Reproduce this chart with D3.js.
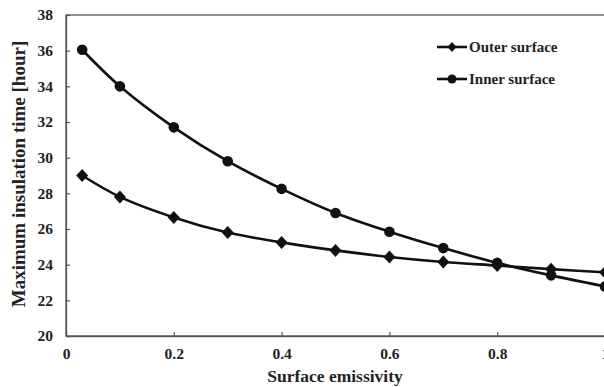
<!DOCTYPE html>
<html><head><meta charset="utf-8">
<script src="https://cdn.jsdelivr.net/npm/d3@7"></script>
<style>body{margin:0;background:#fff}svg{display:block}</style>
</head><body>
<svg id="c" width="604" height="387"></svg>
<script>
const xVals = [0.03, 0.1, 0.2, 0.3, 0.4, 0.5, 0.6, 0.7, 0.8, 0.9, 1.0];
const outer = [29.0, 27.8, 26.65, 25.8, 25.25, 24.8, 24.43, 24.15, 23.95, 23.75, 23.57];
const inner = [36.05, 34.0, 31.7, 29.8, 28.25, 26.9, 25.85, 24.93, 24.1, 23.4, 22.78];
const xTicks = [0, 0.2, 0.4, 0.6, 0.8, 1];
const yTicks = [20, 22, 24, 26, 28, 30, 32, 34, 36, 38];
const seriesNames = ["Outer surface", "Inner surface"];

const svg = d3.select("#c");
const L = 66, R = 605, T = 15, B = 336;
const x = d3.scaleLinear().domain([0, 1]).range([L, R]);
const y = d3.scaleLinear().domain([20, 38]).range([B, T]);
const serif = "'Liberation Serif','Times New Roman',serif";
const axisCol = "#555";

// frame
svg.append("rect").attr("x", L).attr("y", T).attr("width", R - L).attr("height", B - T)
  .attr("fill", "none").attr("stroke", axisCol).attr("stroke-width", 1.3);

const xa = svg.append("g").attr("transform", `translate(0,${B})`)
  .call(d3.axisBottom(x).tickValues(xTicks).tickSizeInner(-4).tickSizeOuter(0).tickPadding(12)
    .tickFormat(d => d === 0 ? "0" : d === 1 ? "1" : d3.format(".1f")(d)));
const ya = svg.append("g").attr("transform", `translate(${L},0)`)
  .call(d3.axisLeft(y).tickValues(yTicks).tickSizeInner(-4).tickSizeOuter(0).tickPadding(13));
[xa, ya].forEach(g => {
  g.select(".domain").attr("stroke", axisCol).attr("stroke-width", 1.3);
  g.selectAll(".tick line").attr("stroke", axisCol).attr("stroke-width", 1.2);
  g.selectAll("text").attr("font-family", serif).attr("font-weight", "bold")
    .attr("font-size", 15.5).attr("fill", "#222");
});

svg.append("text").attr("x", 335).attr("y", 382).attr("text-anchor", "middle")
  .attr("font-family", serif).attr("font-weight", "bold").attr("font-size", 17.5).attr("fill", "#222")
  .text("Surface emissivity");
svg.append("text").attr("transform", `translate(25,${174}) rotate(-90)`)
  .attr("text-anchor", "middle")
  .attr("font-family", serif).attr("font-weight", "bold").attr("font-size", 19).attr("fill", "#222")
  .text("Maximum insulation time [hour]");

const line = d3.line().x((d, i) => x(xVals[i])).y(d => y(d)).curve(d3.curveCatmullRom.alpha(0.5));
const col = "#111";
[outer, inner].forEach(s => {
  svg.append("path").datum(s).attr("d", line).attr("fill", "none")
    .attr("stroke", col).attr("stroke-width", 2.6);
});
const dia = (w, h) => `M0,${-h}L${w},0L0,${h}L${-w},0Z`;
svg.append("g").selectAll("path").data(outer).join("path")
  .attr("transform", (d, i) => `translate(${x(xVals[i])},${y(d)})`)
  .attr("d", dia(6, 6.5)).attr("fill", col);
svg.append("g").selectAll("circle").data(inner).join("circle")
  .attr("cx", (d, i) => x(xVals[i])).attr("cy", d => y(d)).attr("r", 5.3).attr("fill", col);

// legend
const lg = svg.append("g");
const ly = [47, 79];
seriesNames.forEach((n, i) => {
  lg.append("line").attr("x1", 437).attr("x2", 467).attr("y1", ly[i]).attr("y2", ly[i])
    .attr("stroke", col).attr("stroke-width", 2.6);
  if (i === 0) lg.append("path").attr("transform", `translate(452,${ly[i]})`)
    .attr("d", dia(4.5, 5)).attr("fill", col);
  else lg.append("circle").attr("cx", 452).attr("cy", ly[i]).attr("r", 4.5).attr("fill", col);
  lg.append("text").attr("x", 469).attr("y", ly[i] + 5).attr("font-family", serif)
    .attr("font-weight", "bold").attr("font-size", 15).attr("fill", "#222").text(n);
});
</script>
</body></html>
